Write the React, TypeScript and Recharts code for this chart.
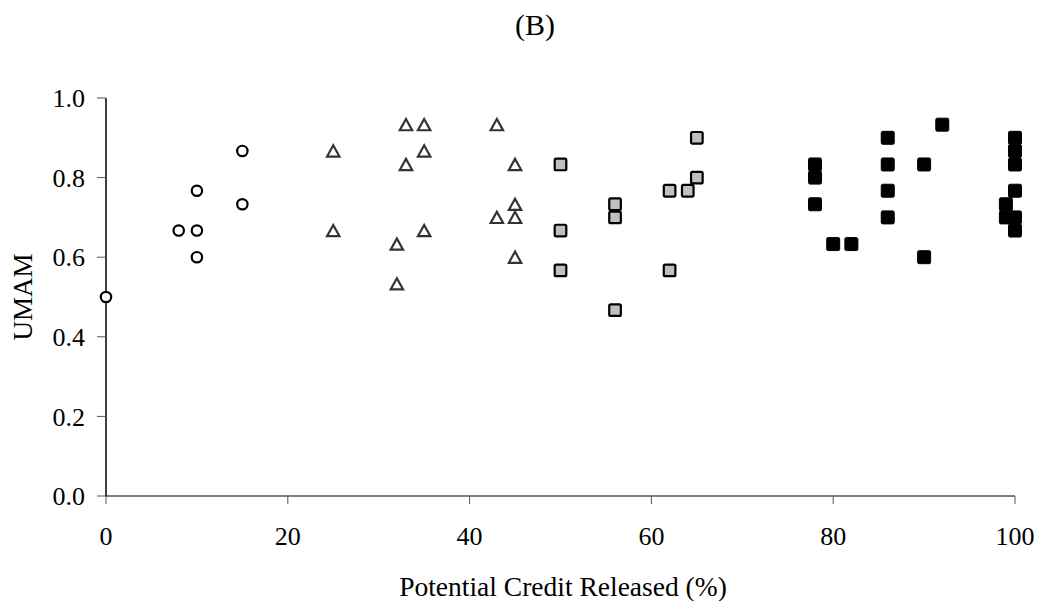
import React from 'react';
import { ScatterChart, Scatter, XAxis, YAxis } from 'recharts';

const circleX = [0, 8, 10, 10, 10, 15, 15];
const circleY = [0.5, 0.667, 0.667, 0.767, 0.6, 0.867, 0.733];

const triangleX = [25, 25, 32, 32, 33, 33, 35, 35, 35, 43, 43, 45, 45, 45, 45];
const triangleY = [0.867, 0.667, 0.633, 0.533, 0.933, 0.833, 0.933, 0.867, 0.667, 0.933, 0.7, 0.833, 0.733, 0.7, 0.6];

const graySquareX = [50, 50, 50, 56, 56, 56, 62, 62, 64, 65, 65];
const graySquareY = [0.833, 0.667, 0.567, 0.733, 0.7, 0.467, 0.767, 0.567, 0.767, 0.9, 0.8];

const blackSquareX = [78, 78, 78, 80, 82, 86, 86, 86, 86, 90, 90, 92, 99, 99, 100, 100, 100, 100, 100, 100];
const blackSquareY = [0.833, 0.8, 0.733, 0.633, 0.633, 0.9, 0.833, 0.767, 0.7, 0.833, 0.6, 0.933, 0.733, 0.7, 0.9, 0.867, 0.833, 0.767, 0.7, 0.667];

const xTicks = [0, 20, 40, 60, 80, 100];
const yTicks = [0, 0.2, 0.4, 0.6, 0.8, 1.0];

const title = '(B)';
const xLabel = 'Potential Credit Released (%)';
const yLabel = 'UMAM';

const zip = (xs: number[], ys: number[]) => xs.map((x, i) => ({ x, y: ys[i] }));

const circleData = zip(circleX, circleY);
const triangleData = zip(triangleX, triangleY);
const graySquareData = zip(graySquareX, graySquareY);
const blackSquareData = zip(blackSquareX, blackSquareY);

const FONT = '"Liberation Serif", "Times New Roman", serif';

const CircleShape = (p: any) => (
  <circle cx={p.cx} cy={p.cy} r={5.2} fill="#fff" stroke="#000" strokeWidth={2.2} />
);

const TriangleShape = (p: any) => {
  const { cx, cy } = p;
  const w = 6.2, h = 5.6;
  return (
    <polygon
      points={`${cx},${cy - h} ${cx + w},${cy + h} ${cx - w},${cy + h}`}
      fill="#fff"
      stroke="#333"
      strokeWidth={2.2}
      strokeLinejoin="miter"
    />
  );
};

const GraySquareShape = (p: any) => (
  <rect x={p.cx - 5.8} y={p.cy - 5.8} width={11.6} height={11.6} rx={1.5} fill="#c0c0c0" stroke="#000" strokeWidth={2.2} />
);

const BlackSquareShape = (p: any) => (
  <rect x={p.cx - 6.5} y={p.cy - 6.5} width={13} height={13} rx={1.5} fill="#000" stroke="#000" strokeWidth={1} />
);

export default function App() {
  return (
    <div style={{ position: 'absolute', left: 0, top: 0, width: 1040, height: 601, fontFamily: FONT, overflow: 'hidden' }}>
      <ScatterChart width={1040} height={601} margin={{ top: 98, right: 25, bottom: 45, left: 46 }}>
        <XAxis
          type="number"
          dataKey="x"
          domain={[0, 100]}
          ticks={xTicks}
          height={60}
          tickSize={8}
          tickMargin={23}
          axisLine={{ stroke: '#555', strokeWidth: 1.5 }}
          tickLine={{ stroke: '#555', strokeWidth: 1 }}
          tick={{ fill: '#000', fontSize: 26, fontFamily: FONT }}
        />
        <YAxis
          type="number"
          dataKey="y"
          domain={[0, 1]}
          ticks={yTicks}
          width={60}
          tickSize={9}
          tickMargin={12}
          tickFormatter={(v: number) => v.toFixed(1)}
          axisLine={{ stroke: '#000', strokeWidth: 1.5 }}
          tickLine={{ stroke: '#555', strokeWidth: 1 }}
          tick={{ fill: '#000', fontSize: 26, fontFamily: FONT }}
        />
        <Scatter data={circleData} shape={CircleShape} isAnimationActive={false} />
        <Scatter data={triangleData} shape={TriangleShape} isAnimationActive={false} />
        <Scatter data={graySquareData} shape={GraySquareShape} isAnimationActive={false} />
        <Scatter data={blackSquareData} shape={BlackSquareShape} isAnimationActive={false} />
      </ScatterChart>
      <div style={{ position: 'absolute', left: 535, top: 25, transform: 'translate(-50%, -50%)', fontSize: 30, whiteSpace: 'nowrap', color: '#000' }}>
        {title}
      </div>
      <div style={{ position: 'absolute', left: 23, top: 297, transform: 'translate(-50%, -50%) rotate(-90deg)', fontSize: 27, whiteSpace: 'nowrap', color: '#000' }}>
        {yLabel}
      </div>
      <div style={{ position: 'absolute', left: 563, top: 587, transform: 'translate(-50%, -50%)', fontSize: 27.5, whiteSpace: 'nowrap', color: '#000' }}>
        {xLabel}
      </div>
    </div>
  );
}
